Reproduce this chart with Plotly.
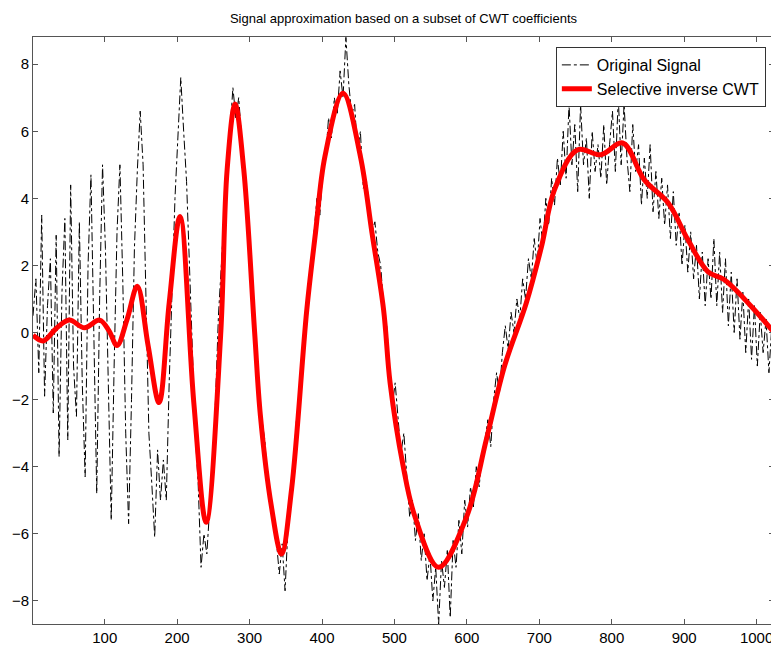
import plotly.graph_objects as go

# original (noisy) signal, read every 4th sample off the picture
sig_x = list(range(1, 1024, 4)) + [1024]
sig_y = [
    0.5, 1.6, -1.2, 3.5, -1.9, 0.8, 2.2, -2.4, 2.9, -3.7,
    1.2, 3.4, -3.2, 4.4, -1.0, -2.5, 3.3, -1.5, -4.3, 2.0,
    4.7, -0.5, -4.8, 1.0, 5.0, 2.5, -2.0, -5.6, -1.0, 3.0,
    5.0, 1.5, -3.0, -5.7, -2.0, 2.5, 4.8, 6.6, 5.0, 1.0,
    -3.0, -4.5, -6.1, -3.5, -5.0, -3.8, -5.0, -1.5, 1.5, 4.0,
    5.8, 7.6, 6.0, 4.5, 2.0, -0.5, -3.0, -4.5, -7.0, -6.0,
    -6.6, -5.2, -4.0, -2.0, 0.5, 2.0, 3.8, 5.2, 6.0, 7.3,
    6.4, 7.0, 5.8, 4.5, 3.2, 2.0, 0.2, -0.5, -1.5, -2.6,
    -3.2, -4.5, -5.0, -5.8, -6.2, -7.2, -6.3, -7.7, -5.8, -4.8,
    -3.8, -2.5, -2.2, -1.0, 0.0, 1.0, 1.8, 2.8, 4.0, 3.5,
    4.8, 5.2, 6.4, 5.8, 7.0, 6.5, 7.8, 7.0, 8.8, 7.4,
    6.5, 6.8, 5.4, 6.0, 4.3, 4.6, 3.8, 3.0, 3.3, 2.4,
    2.0, 0.8, 0.3, -1.0, -2.2, -1.5, -2.5, -3.6, -3.0, -4.2,
    -5.5, -5.0, -6.2, -5.4, -6.8, -6.0, -7.4, -6.6, -8.0, -7.0,
    -8.7, -6.8, -7.6, -6.5, -8.5, -6.2, -7.0, -5.6, -6.6, -5.0,
    -5.8, -4.6, -5.2, -4.0, -4.6, -3.6, -3.2, -2.6, -3.4, -2.0,
    -1.2, -1.8, -0.6, 0.2, -0.5, 0.6, 0.0, 1.0, 0.4, 1.6,
    1.0, 2.2, 1.6, 2.8, 2.0, 3.4, 2.6, 4.0, 3.2, 4.6,
    3.8, 5.2, 4.4, 6.0, 4.6, 6.8, 5.0, 6.2, 4.2, 6.8,
    5.0, 5.8, 4.0, 6.0, 4.8, 5.6, 4.6, 6.2, 4.4, 5.6,
    6.6, 4.8, 7.0, 5.0, 6.8, 5.2, 4.2, 6.2, 4.8, 5.6,
    3.8, 5.2, 4.0, 5.6, 3.6, 4.8, 3.4, 4.6, 3.2, 4.4,
    2.8, 4.2, 2.6, 3.6, 2.0, 3.2, 1.8, 3.0, 1.6, 2.6,
    1.0, 2.4, 0.8, 2.2, 1.0, 2.8, 0.8, 2.4, 0.6, 2.2,
    0.2, 1.8, 0.0, 1.6, -0.2, 1.2, -0.6, 1.0, -0.8, 0.8,
    -1.0, 0.6, -0.6, 0.4, -1.2, 0.2, -0.4,
]

# selective inverse CWT (smooth red curve), knots
rec_x = [1, 15, 33, 51, 72, 93, 106, 117, 131, 145,
         160, 175, 189, 204, 223, 240, 260, 269, 280, 292,
         307, 315, 330, 344, 358, 379, 391, 404, 429, 453,
         469, 485, 494, 512, 528, 561, 600, 627, 652, 682,
         703, 721, 753, 785, 815, 845, 878, 905, 933, 955,
         993, 1024]
rec_y = [-0.08, -0.25, 0.12, 0.37, 0.14, 0.37, 0.05, -0.39, 0.4, 1.38,
         -0.4, -2.09, 0.88, 3.46, -2.09, -5.66, -0.1, 4.85, 6.81, 4.85,
         0.0, -2.49, -5.17, -6.6, -4.67, 0.68, 2.97, 5.25, 7.13, 5.25,
         2.97, 0.68, -1.5, -3.98, -5.47, -7.0, -5.47, -3.18, -1.0, 0.88,
         2.56, 4.26, 5.45, 5.3, 5.65, 4.55, 3.86, 2.77, 1.81, 1.58,
         0.77, 0.0]

x_ticks = [100, 200, 300, 400, 500, 600, 700, 800, 900, 1000]
y_ticks = [-8, -6, -4, -2, 0, 2, 4, 6, 8]

fig = go.Figure()

fig.add_trace(go.Scatter(
    x=sig_x, y=sig_y, mode="lines", name="Original Signal",
    line=dict(color="black", width=1, dash="dashdot"),
))

fig.add_trace(go.Scatter(
    x=rec_x, y=rec_y, mode="lines", name="Selective inverse CWT",
    line=dict(color="#ff0000", width=5, shape="spline", smoothing=1.0),
))

axis_style = dict(
    showline=True, mirror="ticks", linecolor="#555555", linewidth=1,
    ticks="inside", ticklen=5, tickcolor="#555555",
    showgrid=False, zeroline=False,
    tickfont=dict(family="Liberation Sans, Arial", size=15, color="black"),
)

fig.update_xaxes(range=[1, 1024], tickvals=x_ticks, **axis_style)
fig.update_yaxes(range=[-8.69, 8.81], tickvals=y_ticks, **axis_style)

# page body adds an 8px margin, so the figure is 8px smaller than the window
fig.update_layout(
    width=771, height=642,
    margin=dict(l=23, r=4, t=29, b=25),
    plot_bgcolor="white", paper_bgcolor="white",
    title=dict(text="Signal approximation based on a subset of CWT coefficients",
               x=0.513, xanchor="center", y=0.984, yanchor="middle",
               font=dict(family="Liberation Sans, Arial", size=13, color="black")),
    legend=dict(x=0.989, xanchor="right", y=0.983, yanchor="top",
                bgcolor="white", bordercolor="#333333", borderwidth=1,
                font=dict(family="Liberation Sans, Arial", size=16, color="black"),
                tracegroupgap=0),
    showlegend=True,
)

fig.write_html("out.html")
